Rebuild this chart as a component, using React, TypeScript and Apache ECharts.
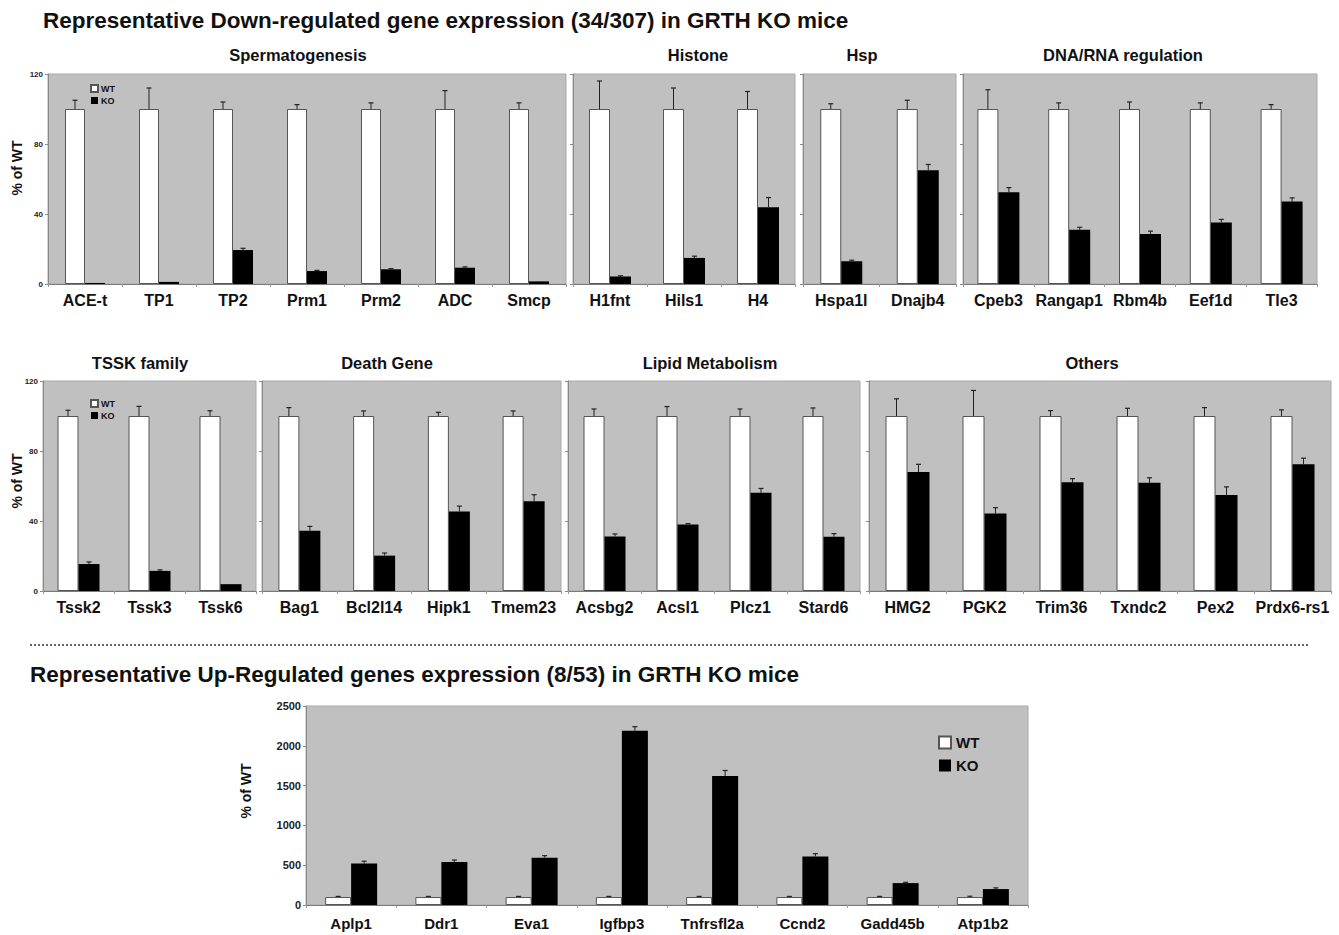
import React, { useEffect, useRef } from "react";
import * as echarts from "echarts";

const FONT = '"Liberation Sans", Arial, Helvetica, sans-serif';

// ---------- Data ----------
const spermCats = ["ACE-t", "TP1", "TP2", "Prm1", "Prm2", "ADC", "Smcp"];
const spermWT = [100, 100, 100, 100, 100, 100, 100];
const spermWTErr = [5, 12, 4, 2.5, 3.5, 10.5, 3.5];
const spermKO = [0.6, 1.2, 19.4, 7.4, 8.4, 9.3, 1.5];
const spermKOErr = [0, 0, 1, 0.4, 0.4, 0.5, 0.2];

const histCats = ["H1fnt", "Hils1", "H4"];
const histWT = [100, 100, 100];
const histWTErr = [16, 12, 10];
const histKO = [4.3, 14.9, 43.9];
const histKOErr = [0.4, 1, 5.5];

const hspCats = ["Hspa1l", "Dnajb4"];
const hspWT = [100, 100];
const hspWTErr = [3, 5];
const hspKO = [13, 65];
const hspKOErr = [0.6, 3.3];

const dnaCats = ["Cpeb3", "Rangap1", "Rbm4b", "Eef1d", "Tle3"];
const dnaWT = [100, 100, 100, 100, 100];
const dnaWTErr = [11, 3.5, 4, 3.5, 2.5];
const dnaKO = [52.5, 31, 28.6, 35.1, 47.1];
const dnaKOErr = [2.6, 1.4, 1.6, 1.8, 2.1];

const tsskCats = ["Tssk2", "Tssk3", "Tssk6"];
const tsskWT = [100, 100, 100];
const tsskWTErr = [3.3, 5.5, 3];
const tsskKO = [15.4, 11.5, 3.9];
const tsskKOErr = [1.2, 0.6, 0];

const deathCats = ["Bag1", "Bcl2l14", "Hipk1", "Tmem23"];
const deathWT = [100, 100, 100, 100];
const deathWTErr = [4.8, 2.9, 2.1, 2.9];
const deathKO = [34.4, 20.2, 45.4, 51.3];
const deathKOErr = [2.5, 1.5, 3.1, 3.7];

const lipidCats = ["Acsbg2", "Acsl1", "Plcz1", "Stard6"];
const lipidWT = [100, 100, 100, 100];
const lipidWTErr = [4, 5.4, 4, 4.6];
const lipidKO = [31.2, 38, 56.1, 31];
const lipidKOErr = [1.4, 0.5, 2.5, 1.8];

const otherCats = ["HMG2", "PGK2", "Trim36", "Txndc2", "Pex2", "Prdx6-rs1"];
const otherWT = [100, 100, 100, 100, 100, 100];
const otherWTErr = [9.8, 14.6, 3.1, 4.4, 4.8, 3.5];
const otherKO = [68, 44.3, 62.2, 61.8, 54.9, 72.4];
const otherKOErr = [4.4, 3.3, 2, 2.9, 4.6, 3.5];

const upCats = ["Aplp1", "Ddr1", "Eva1", "Igfbp3", "Tnfrsfl2a", "Ccnd2", "Gadd45b", "Atp1b2"];
const upWT = [100, 100, 100, 100, 100, 100, 100, 100];
const upWTErr = [8, 8, 8, 8, 8, 8, 8, 10];
const upKO = [520, 540, 595, 2190, 1620, 610, 275, 200];
const upKOErr = [30, 25, 25, 50, 70, 35, 10, 15];

const downTicks = { min: 0, max: 120, interval: 40 };
const upTicks = { min: 0, max: 2500, interval: 500 };

// ---------- Layout ----------
type Panel = {
  title?: string;
  cats: string[];
  wt: number[];
  wtErr: number[];
  ko: number[];
  koErr: number[];
  left: number;
  top: number;
  width: number;
  height: number;
  titleX?: number;
  titleY?: number;
  ticks: { min: number; max: number; interval: number };
  showY: boolean;
  barW: number;
  labelSize: number;
  labelMargin: number;
  yLabelSize: number;
};

const panels: Panel[] = [
  { title: "Spermatogenesis", cats: spermCats, wt: spermWT, wtErr: spermWTErr, ko: spermKO, koErr: spermKOErr, left: 48, top: 74, width: 518, height: 210, titleX: 298, titleY: 55, ticks: downTicks, showY: true, barW: 20, labelSize: 16, labelMargin: 8, yLabelSize: 8 },
  { title: "Histone", cats: histCats, wt: histWT, wtErr: histWTErr, ko: histKO, koErr: histKOErr, left: 573, top: 74, width: 222, height: 210, titleX: 698, titleY: 55, ticks: downTicks, showY: false, barW: 21, labelSize: 16, labelMargin: 8, yLabelSize: 8 },
  { title: "Hsp", cats: hspCats, wt: hspWT, wtErr: hspWTErr, ko: hspKO, koErr: hspKOErr, left: 803, top: 74, width: 153, height: 210, titleX: 862, titleY: 55, ticks: downTicks, showY: false, barW: 21, labelSize: 16, labelMargin: 8, yLabelSize: 8 },
  { title: "DNA/RNA regulation", cats: dnaCats, wt: dnaWT, wtErr: dnaWTErr, ko: dnaKO, koErr: dnaKOErr, left: 963, top: 74, width: 354, height: 210, titleX: 1123, titleY: 55, ticks: downTicks, showY: false, barW: 21, labelSize: 16, labelMargin: 8, yLabelSize: 8 },
  { title: "TSSK family", cats: tsskCats, wt: tsskWT, wtErr: tsskWTErr, ko: tsskKO, koErr: tsskKOErr, left: 43, top: 381, width: 213, height: 210, titleX: 140, titleY: 363, ticks: downTicks, showY: true, barW: 21, labelSize: 16, labelMargin: 8, yLabelSize: 8 },
  { title: "Death Gene", cats: deathCats, wt: deathWT, wtErr: deathWTErr, ko: deathKO, koErr: deathKOErr, left: 262, top: 381, width: 299, height: 210, titleX: 387, titleY: 363, ticks: downTicks, showY: false, barW: 21, labelSize: 16, labelMargin: 8, yLabelSize: 8 },
  { title: "Lipid Metabolism", cats: lipidCats, wt: lipidWT, wtErr: lipidWTErr, ko: lipidKO, koErr: lipidKOErr, left: 568, top: 381, width: 292, height: 210, titleX: 710, titleY: 363, ticks: downTicks, showY: false, barW: 21, labelSize: 16, labelMargin: 8, yLabelSize: 8 },
  { title: "Others", cats: otherCats, wt: otherWT, wtErr: otherWTErr, ko: otherKO, koErr: otherKOErr, left: 869, top: 381, width: 462, height: 210, titleX: 1092, titleY: 363, ticks: downTicks, showY: false, barW: 22, labelSize: 16, labelMargin: 8, yLabelSize: 8 },
  { cats: upCats, wt: upWT, wtErr: upWTErr, ko: upKO, koErr: upKOErr, left: 306, top: 706, width: 722, height: 199, ticks: upTicks, showY: true, barW: 26, labelSize: 15, labelMargin: 11, yLabelSize: 11 },
];

const yNames = [
  { x: 17, y: 168 },
  { x: 17, y: 481 },
  { x: 246, y: 791 },
];

function errSeries(i: number, cats: string[], vals: number[], errs: number[], offset: number) {
  return {
    type: "custom",
    xAxisIndex: i,
    yAxisIndex: i,
    z: 5,
    silent: true,
    renderItem: (_params: any, api: any) => {
      const idx = api.value(0);
      const v = api.value(1);
      const t = api.value(2);
      const p0 = api.coord([idx, v]);
      const p1 = api.coord([idx, t]);
      const x = p0[0] + offset;
      if (Math.abs(p1[1] - p0[1]) < 0.5) return null;
      return {
        type: "group",
        children: [
          { type: "line", shape: { x1: x, y1: p0[1], x2: x, y2: p1[1] }, style: { stroke: "#222", lineWidth: 1 } },
          { type: "line", shape: { x1: x - 2.5, y1: p1[1], x2: x + 2.5, y2: p1[1] }, style: { stroke: "#222", lineWidth: 1.2 } },
        ],
      };
    },
    data: cats.map((_c, j) => [j, vals[j], vals[j] + errs[j]]),
  };
}

function buildOption() {
  const grid: any[] = [];
  const xAxis: any[] = [];
  const yAxis: any[] = [];
  const series: any[] = [];
  const graphic: any[] = [];

  panels.forEach((p, i) => {
    grid.push({
      left: p.left,
      top: p.top,
      width: p.width,
      height: p.height,
      show: true,
      backgroundColor: "#c0c0c0",
      borderColor: "#a9a9a9",
      borderWidth: 1,
      containLabel: false,
    });
    xAxis.push({
      type: "category",
      gridIndex: i,
      data: p.cats,
      axisLine: { show: true, lineStyle: { color: "#7a7a7a", width: 1 } },
      axisTick: { show: true, length: 3, lineStyle: { color: "#999" } },
      axisLabel: {
        show: true,
        interval: 0,
        fontFamily: FONT,
        fontWeight: "bold",
        fontSize: p.labelSize,
        color: "#111",
        margin: p.labelMargin,
      },
    });
    yAxis.push({
      type: "value",
      gridIndex: i,
      min: p.ticks.min,
      max: p.ticks.max,
      interval: p.ticks.interval,
      splitLine: { show: false },
      axisLine: { show: true, lineStyle: { color: "#8a8a8a", width: 1 } },
      axisTick: { show: true, length: 3, lineStyle: { color: "#8a8a8a" } },
      axisLabel: {
        show: p.showY,
        fontFamily: FONT,
        fontWeight: "bold",
        fontSize: p.yLabelSize,
        color: "#222",
        margin: 5,
        formatter: (v: number) => String(v),
      },
    });
    series.push({
      name: "WT",
      type: "bar",
      xAxisIndex: i,
      yAxisIndex: i,
      data: p.wt,
      barWidth: p.barW,
      barGap: "0%",
      itemStyle: { color: "#ffffff", borderColor: "#555", borderWidth: 1 },
      silent: true,
    });
    series.push({
      name: "KO",
      type: "bar",
      xAxisIndex: i,
      yAxisIndex: i,
      data: p.ko,
      barWidth: p.barW,
      barGap: "0%",
      itemStyle: { color: "#000000", borderColor: "#000", borderWidth: 0 },
      silent: true,
    });
    series.push(errSeries(i, p.cats, p.wt, p.wtErr, -p.barW / 2));
    series.push(errSeries(i, p.cats, p.ko, p.koErr, p.barW / 2));

    if (p.title) {
      graphic.push({
        type: "text",
        x: p.titleX,
        y: p.titleY,
        style: {
          text: p.title,
          font: `bold 16.5px ${FONT}`,
          fill: "#111",
          textAlign: "center",
          textVerticalAlign: "middle",
        },
      });
    }
  });

  yNames.forEach((n) => {
    graphic.push({
      type: "text",
      x: n.x,
      y: n.y,
      rotation: Math.PI / 2,
      style: {
        text: "% of WT",
        font: `bold 14px ${FONT}`,
        fill: "#111",
        textAlign: "center",
        textVerticalAlign: "middle",
      },
    });
  });

  graphic.push({
    type: "text",
    x: 43,
    y: 20,
    style: {
      text: "Representative Down-regulated gene expression (34/307) in GRTH KO mice",
      font: `bold 22.5px ${FONT}`,
      fill: "#111",
      textAlign: "left",
      textVerticalAlign: "middle",
    },
  });
  graphic.push({
    type: "text",
    x: 30,
    y: 674,
    style: {
      text: "Representative Up-Regulated genes expression (8/53) in GRTH KO mice",
      font: `bold 22.5px ${FONT}`,
      fill: "#111",
      textAlign: "left",
      textVerticalAlign: "middle",
    },
  });
  graphic.push({
    type: "line",
    shape: { x1: 30, y1: 645, x2: 1310, y2: 645 },
    style: { stroke: "#333", lineWidth: 1.5, lineDash: [2, 2] },
  });

  const legendBase = {
    orient: "vertical",
    icon: "rect",
    data: ["WT", "KO"],
    selectedMode: false,
  };

  return {
    animation: false,
    backgroundColor: "#ffffff",
    grid,
    xAxis,
    yAxis,
    series,
    graphic,
    legend: [
      { ...legendBase, left: 85, top: 79, itemWidth: 7, itemHeight: 7, itemGap: 3, textStyle: { fontFamily: FONT, fontWeight: "bold", fontSize: 9, color: "#111", padding: [0, 0, 0, -2] } },
      { ...legendBase, left: 85, top: 394, itemWidth: 7, itemHeight: 7, itemGap: 3, textStyle: { fontFamily: FONT, fontWeight: "bold", fontSize: 9, color: "#111", padding: [0, 0, 0, -2] } },
      { ...legendBase, left: 933, top: 730, itemWidth: 12, itemHeight: 12, itemGap: 8, textStyle: { fontFamily: FONT, fontWeight: "bold", fontSize: 15, color: "#111" } },
    ],
  };
}

export default function App() {
  const ref = useRef<HTMLDivElement>(null);
  useEffect(() => {
    document.body.style.margin = "0";
    if (!ref.current) return;
    const chart = echarts.init(ref.current, undefined, { renderer: "svg" });
    chart.setOption(buildOption() as any);
    return () => {
      chart.dispose();
    };
  }, []);
  return <div ref={ref} style={{ width: 1339, height: 935, background: "#fff" }} />;
}
